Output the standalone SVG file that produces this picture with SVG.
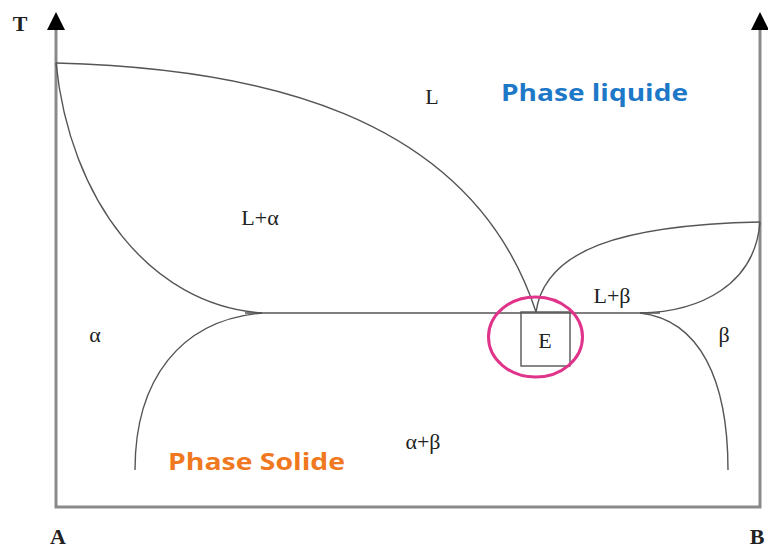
<svg xmlns="http://www.w3.org/2000/svg" width="768" height="549" viewBox="0 0 768 549">
<defs>
<style>
.ax{fill:none;stroke:#8a8a8a;stroke-width:3}
.cv{fill:none;stroke:#555;stroke-width:1.4}
.t{font-family:"Liberation Serif",serif;font-size:22px;fill:#222}
.ph{font-family:"Open Sans","Liberation Sans",sans-serif;font-weight:bold;font-size:23px}
</style>
</defs>
<rect width="768" height="549" fill="#fff"/>
<g id="axes">
<path class="ax" d="M56,30 V507 H760 V30"/>
<polygon points="47,30 65,30 56,12" fill="#000"/>
<polygon points="751,30 769,30 760,12" fill="#000"/>
</g>
<g id="connectors">
<path class="cv" d="M56,63 C250,68 470,110 536,312"/>
<path class="cv" d="M56,63 C70,200 150,305 262,313"/>
<path class="cv" d="M245,313 H660"/>
<path class="cv" d="M262,313 C180,320 135,380 135,470"/>
<path class="cv" d="M536,312 C545,250 620,225 760,222"/>
<path class="cv" d="M760,222 C755,285 700,312 640,313"/>
<path class="cv" d="M640,313 C700,320 728,380 728,470"/>
</g>
<g id="E">
<rect x="521" y="312" width="49" height="54" fill="none" stroke="#555" stroke-width="1.4"/>
<text class="t" x="545" y="348" text-anchor="middle">E</text>
<ellipse cx="535.5" cy="337" rx="47" ry="40" fill="none" stroke="#e0338a" stroke-width="3"/>
</g>
<g id="labels">
<text class="t" x="20" y="31" text-anchor="middle" font-weight="bold" font-size="20">T</text>
<text class="t" x="58" y="544" text-anchor="middle" font-weight="bold" font-size="20">A</text>
<text class="t" x="757" y="544" text-anchor="middle" font-weight="bold" font-size="20">B</text>
<text class="t" x="432" y="104" text-anchor="middle">L</text>
<text class="t" x="260" y="225" text-anchor="middle">L+α</text>
<text class="t" x="95" y="342" text-anchor="middle">α</text>
<text class="t" x="612" y="303" text-anchor="middle">L+β</text>
<text class="t" x="724" y="342" text-anchor="middle">β</text>
<text class="t" x="423" y="449" text-anchor="middle">α+β</text>
<text class="ph" x="501" y="101" fill="#1e78c8" textLength="187" lengthAdjust="spacingAndGlyphs">Phase  liquide</text>
<text class="ph" x="168" y="470" fill="#f07820" textLength="177" lengthAdjust="spacingAndGlyphs">Phase  Solide</text>
</g>
</svg>
